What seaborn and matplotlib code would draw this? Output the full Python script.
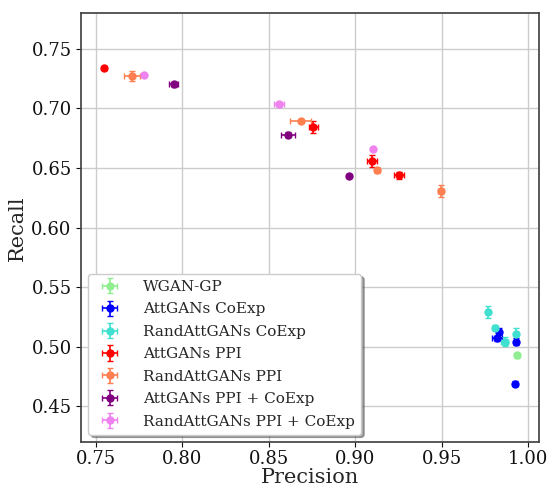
import matplotlib
matplotlib.use("Agg")
import matplotlib.pyplot as plt
import seaborn as sns

sns.set_theme(style="ticks")
plt.rcParams['font.family'] = ['DejaVu Serif']

# 数据：每个模型的 precision / recall 及其误差
labels = ["WGAN-GP", "AttGANs CoExp", "RandAttGANs CoExp", "AttGANs PPI",
          "RandAttGANs PPI", "AttGANs PPI + CoExp", "RandAttGANs PPI + CoExp"]
colors = ["lightgreen", "blue", "turquoise", "red", "coral", "purple", "violet"]

wgan_p = [0.9934]
wgan_r = [0.4930]
wgan_px = [0.0005]
wgan_ry = [0.002]

att_coexp_p = [0.9829, 0.9820, 0.9930, 0.9924]
att_coexp_r = [0.5128, 0.5073, 0.5044, 0.4690]
att_coexp_px = [0.0008, 0.0030, 0.0008, 0.0008]
att_coexp_ry = [0.003, 0.002, 0.003, 0.002]

rand_coexp_p = [0.9764, 0.9805, 0.9864, 0.9930]
rand_coexp_r = [0.5291, 0.5162, 0.5044, 0.5107]
rand_coexp_px = [0.0010, 0.0008, 0.0020, 0.0008]
rand_coexp_ry = [0.005, 0.002, 0.004, 0.005]

att_ppi_p = [0.7548, 0.8756, 0.9097, 0.9251]
att_ppi_r = [0.7340, 0.6843, 0.6563, 0.6440]
att_ppi_px = [0.0008, 0.0025, 0.0030, 0.0030]
att_ppi_ry = [0.002, 0.005, 0.005, 0.003]

rand_ppi_p = [0.7710, 0.8683, 0.9126, 0.9492]
rand_ppi_r = [0.7273, 0.6896, 0.6482, 0.6306]
rand_ppi_px = [0.0045, 0.0060, 0.0015, 0.0015]
rand_ppi_ry = [0.004, 0.001, 0.002, 0.005]

att_both_p = [0.7949, 0.8612, 0.8962]
att_both_r = [0.7204, 0.6781, 0.6435]
att_both_px = [0.0025, 0.0040, 0.0010]
att_both_ry = [0.002, 0.002, 0.001]

rand_both_p = [0.7776, 0.8558, 0.9103]
rand_both_r = [0.7282, 0.7036, 0.6659]
rand_both_px = [0.0008, 0.0030, 0.0005]
rand_both_ry = [0.001, 0.002, 0.001]

series = [
    (wgan_p, wgan_r, wgan_px, wgan_ry),
    (att_coexp_p, att_coexp_r, att_coexp_px, att_coexp_ry),
    (rand_coexp_p, rand_coexp_r, rand_coexp_px, rand_coexp_ry),
    (att_ppi_p, att_ppi_r, att_ppi_px, att_ppi_ry),
    (rand_ppi_p, rand_ppi_r, rand_ppi_px, rand_ppi_ry),
    (att_both_p, att_both_r, att_both_px, att_both_ry),
    (rand_both_p, rand_both_r, rand_both_px, rand_both_ry),
]

fig = plt.figure(figsize=(5.49, 4.86), dpi=100)
ax = fig.add_axes([0.147, 0.090, 0.835, 0.883])

for (p, r, px, ry), lab, c in zip(series, labels, colors):
    ax.errorbar(p, r, xerr=px, yerr=ry, fmt="o", color=c, ecolor=c,
                markersize=5, capsize=2, elinewidth=1.2, label=lab)

ax.set_xlim(0.7412, 1.0062)
ax.set_ylim(0.42, 0.78)
ax.set_xticks([0.75, 0.80, 0.85, 0.90, 0.95, 1.00])
ax.set_yticks([0.45, 0.50, 0.55, 0.60, 0.65, 0.70, 0.75])
ax.tick_params(labelsize=13, colors="#111111", length=3.5, width=0.8, pad=3)
ax.tick_params(axis="x", pad=2)
ax.grid(True, color="#cccccc", linewidth=1)
for s in ax.spines.values():
    s.set_color("#444444")
ax.set_xlabel("Precision", fontsize=15, labelpad=0)
ax.set_ylabel("Recall", fontsize=15, labelpad=3)
ax.legend(loc="lower left", fontsize=11, frameon=True, shadow=True,
          handletextpad=1.2, labelspacing=0.55)

plt.savefig("out.png", dpi=100)
